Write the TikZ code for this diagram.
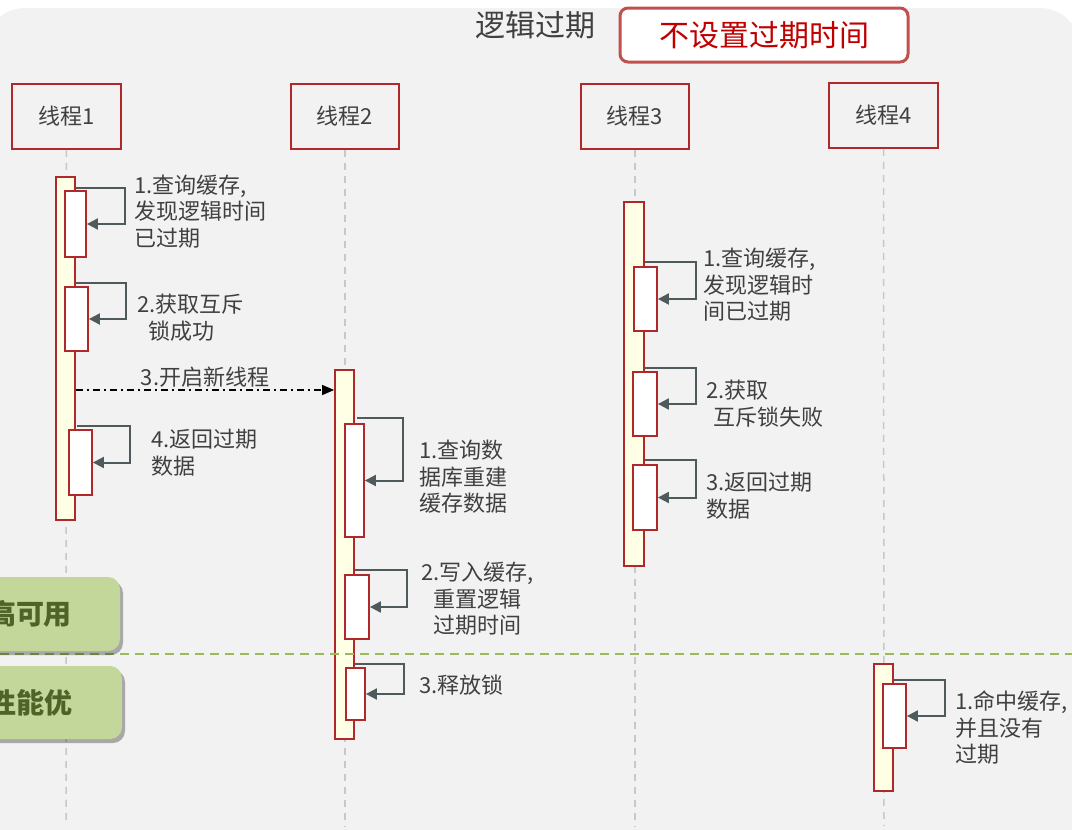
\documentclass[tikz,border=0pt]{standalone}
\usepackage{fontspec}
\setmainfont{Noto Sans CJK SC}
\usetikzlibrary{arrows.meta,shadows}
\definecolor{bggray}{HTML}{F2F2F2}
\definecolor{hred}{HTML}{B0282A}
\definecolor{boxred}{HTML}{C0504D}
\definecolor{txtred}{HTML}{C00000}
\definecolor{actfill}{HTML}{FFFFE6}
\definecolor{loopgray}{HTML}{4F5A5C}
\definecolor{lblgray}{HTML}{404040}
\definecolor{lifegray}{HTML}{C8C8C8}
\definecolor{gfill}{HTML}{C4D79B}
\definecolor{gtext}{HTML}{4F6228}
\definecolor{gline}{HTML}{9BBB59}
\tikzset{
  head/.style={draw=hred, line width=1.8pt, minimum width=109pt, minimum height=65pt, inner sep=0pt, text=lblgray, font=\fontsize{22}{25}\selectfont},
  act/.style={draw=hred, fill=actfill, line width=1.8pt, inner sep=0pt},
  subbox/.style={draw=hred, fill=white, line width=1.8pt, inner sep=0pt},
  selfloop/.style={draw=loopgray, line width=2pt, -{Triangle[length=11pt,width=11pt]}},
  lbl/.style={text=lblgray, font=\fontsize{22}{26.5}\selectfont, inner sep=0pt, align=left, anchor=north west},
  life/.style={draw=lifegray, line width=1.5pt, dash pattern=on 7pt off 6pt},
  gbox/.style={fill=gfill, rounded corners=12pt, drop shadow={shadow xshift=3pt, shadow yshift=-4pt, fill=black, opacity=0.3}, text=gtext, font=\fontsize{28}{30}\selectfont\bfseries, inner sep=0pt}
}
\begin{document}
\begin{tikzpicture}[x=1pt,y=-1pt]
\useasboundingbox (0,0) rectangle (1072,830);
\fill[bggray, rounded corners=40pt] (-15,8) rectangle (1080,880);

% title
\node[text=lblgray, font=\fontsize{30}{32}\selectfont, inner sep=0pt] (title) at (535,25) {逻辑过期};
\node[draw=boxred, line width=3pt, fill=white, rounded corners=8pt, minimum width=288pt, minimum height=54pt, inner sep=0pt, text=txtred, font=\fontsize{30}{32}\selectfont] (nottl) at (764,35) {不设置过期时间};

% heads
\node[head] (h1) at (66.5,116.5) {线程1};
\node[head, minimum width=108pt] (h2) at (345,116.5) {线程2};
\node[head, minimum width=108pt] (h3) at (635,116.5) {线程3};
\node[head] (h4) at (883.5,115.5) {线程4};

% lifelines
\coordinate (e1) at (66,826);
\coordinate (e2) at (345,826);
\coordinate (e3) at (635,826);
\coordinate (e4) at (884,826);
\draw[life] (h1.south) -- (e1);
\draw[life] (h2.south) -- (e2);
\draw[life] (h3.south) -- (e3);
\draw[life] (h4.south) -- (e4);

% thread 1
\node[act, minimum width=19pt, minimum height=343pt] (a1) at (65.5,348.5) {};
\node[subbox, minimum width=21pt, minimum height=66pt] (s11) at (75.5,224) {};
\node[subbox, minimum width=23pt, minimum height=64pt] (s12) at (76.5,319) {};
\node[subbox, minimum width=23pt, minimum height=65pt] (s14) at (80.5,462.5) {};
\draw[selfloop] (a1.east |- 0,188) -- (125,188) |- (s11.east);
\draw[selfloop] (a1.east |- 0,283) -- (126,283) |- (s12.east);
\draw[selfloop] (77,426) -- (130,426) |- (s14.east);
\node[lbl] (l11) at (134,174.5) {1.查询缓存,\\发现逻辑时间\\已过期};
\node[lbl] (l12) at (137,294) {2.获取互斥\\\hspace*{11pt}锁成功};
\node[lbl] (l14) at (151,429) {4.返回过期\\数据};

% thread 2
\node[act, minimum width=19pt, minimum height=369pt] (a2) at (344.5,554.5) {};
\node[subbox, minimum width=19pt, minimum height=113pt] (s21) at (354.5,480.5) {};
\node[subbox, minimum width=24pt, minimum height=64pt] (s22) at (357,607) {};
\node[subbox, minimum width=19pt, minimum height=52pt] (s23) at (355.5,694) {};
\draw[selfloop] (357,418) -- (403,418) |- (s21.east);
\draw[selfloop] (a2.east |- 0,570) -- (407,570) |- (s22.east);
\draw[selfloop] (a2.east |- 0,664) -- (404,664) |- (s23.east);
\node[lbl] (l21) at (419,440) {1.查询数\\据库重建\\缓存数据};
\node[lbl] (l22) at (421,562) {2.写入缓存,\\\hspace*{12pt}重置逻辑\\\hspace*{12pt}过期时间};
\node[lbl] (l23) at (419,675) {3.释放锁};

% new thread message
\draw[black, line width=1.4pt, dash pattern=on 7pt off 4pt on 2pt off 4pt, -{Triangle[length=12pt,width=10pt]}] (a1.east |- 0,390) -- (a2.west |- 0,390);
\node[text=lblgray, font=\fontsize{22}{26.5}\selectfont, inner sep=0pt, anchor=north] (l13) at (205,367) {3.开启新线程};

% thread 3
\node[act, minimum width=20pt, minimum height=364pt] (a3) at (634,384) {};
\node[subbox, minimum width=23pt, minimum height=64pt] (s31) at (645.5,299) {};
\node[subbox, minimum width=24pt, minimum height=64pt] (s32) at (645,404) {};
\node[subbox, minimum width=24pt, minimum height=65pt] (s33) at (645,497.5) {};
\draw[selfloop] (a3.east |- 0,262) -- (696,262) |- (s31.east);
\draw[selfloop] (a3.east |- 0,368) -- (696,368) |- (s32.east);
\draw[selfloop] (a3.east |- 0,460) -- (696,460) |- (s33.east);
\node[lbl] (l31) at (703,248) {1.查询缓存,\\发现逻辑时\\间已过期};
\node[lbl] (l32) at (706,380) {2.获取\\\hspace*{7pt}互斥锁失败};
\node[lbl] (l33) at (706,472) {3.返回过期\\数据};

% thread 4
\node[act, minimum width=19pt, minimum height=127pt] (a4) at (883.5,727.5) {};
\node[subbox, minimum width=23pt, minimum height=64pt] (s41) at (894.5,716) {};
\draw[selfloop] (a4.east |- 0,680) -- (945,680) |- (s41.east);
\node[lbl] (l41) at (955,691) {1.命中缓存,\\并且没有\\过期};

% divider
\coordinate (dl) at (0,654);
\coordinate (dr) at (1072,654);
\draw[gline, line width=2pt, dash pattern=on 9pt off 6pt] (dl) -- (dr);

% green tags
\node[gbox, minimum width=180pt, minimum height=74pt] (g1) at (30,614) {高可用};
\node[gbox, minimum width=182pt, minimum height=73pt] (g2) at (31,702.5) {性能优};
\end{tikzpicture}
\end{document}
